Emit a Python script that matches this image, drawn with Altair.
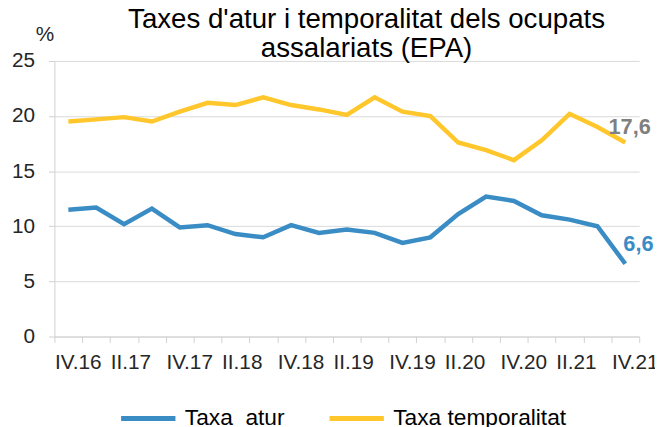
import altair as alt
import pandas as pd

quarters = ["IV.16", "I.17", "II.17", "III.17", "IV.17", "I.18", "II.18", "III.18",
            "IV.18", "I.19", "II.19", "III.19", "IV.19", "I.20", "II.20", "III.20",
            "IV.20", "I.21", "II.21", "III.21", "IV.21"]
atur = [11.5, 11.7, 10.2, 11.6, 9.9, 10.1, 9.3, 9.0, 10.1, 9.4, 9.7, 9.4, 8.5, 9.0,
        11.1, 12.7, 12.3, 11.0, 10.6, 10.0, 6.6]
temporalitat = [19.5, 19.7, 19.9, 19.5, 20.4, 21.2, 21.0, 21.7, 21.0, 20.6, 20.1, 21.7,
                20.4, 20.0, 17.6, 16.9, 16.0, 17.8, 20.2, 19.0, 17.6]
series_names = ["Taxa\u00a0 atur", "Taxa temporalitat"]
series_colors = ["#3A8CC4", "#FFC72C"]
shown_labels = quarters[::2]

rows = []
for name, vals in zip(series_names, [atur, temporalitat]):
    for q, v in zip(quarters, vals):
        rows.append({"q": q, "series": name, "value": v,
                     "label": f"{v:.1f}".replace(".", ",")})
df = pd.DataFrame(rows)

FONT = "Liberation Sans"
label_expr = "indexof([" + ",".join(f"'{s}'" for s in shown_labels) + "], datum.value) >= 0 ? datum.value : ''"

x_enc = alt.X("q:N", sort=quarters, bandPosition=0.5,
              scale=alt.Scale(type="band", paddingInner=0, paddingOuter=0),
              axis=alt.Axis(title=None, labelExpr=label_expr, labelAngle=0, labelAlign="left",
                            labelOffset=-14, labelPadding=9, labelFontSize=21, labelFont=FONT,
                            labelColor="#262626", tickBand="extent", tickSize=6,
                            tickColor="#d0d0d0", domainColor="#d0d0d0", grid=False,
                            labelOverlap=False, labelBound=False))
y_enc = alt.Y("value:Q", scale=alt.Scale(domain=[0, 25], nice=False, zero=True),
              axis=alt.Axis(values=[0, 5, 10, 15, 20, 25], title="%", titleAngle=0,
                            titleX=-10, titleY=-27, titleAlign="center", titleBaseline="middle",
                            titleFontSize=21, titleFont=FONT, titleFontWeight="normal",
                            titleColor="#262626", labelFontSize=21, labelFont=FONT,
                            labelColor="#262626", labelPadding=14, tickSize=6,
                            tickColor="#d0d0d0", domainColor="#d0d0d0", gridColor="#d9d9d9",
                            grid=True))

lines = alt.Chart(df).mark_line(strokeWidth=4.5).encode(
    x=x_enc, y=y_enc,
    color=alt.Color("series:N", sort=series_names,
                    scale=alt.Scale(domain=series_names, range=series_colors),
                    legend=alt.Legend(title=None, orient="none", legendX=65, legendY=332,
                                      direction="horizontal", gridAlign="none",
                                      symbolType="stroke", symbolSize=3025,
                                      symbolStrokeWidth=5, labelFontSize=23, labelFont=FONT,
                                      labelColor="#000000", labelOffset=7, columnPadding=35,
                                      labelLimit=400, padding=0))
)

lab_t = alt.Chart(df).transform_filter(
    (alt.datum.q == "IV.21") & (alt.datum.series == "Taxa temporalitat")
).mark_text(align="left", baseline="middle", dx=-17, dy=-16, fontSize=22,
            fontWeight="bold", font=FONT, color="#7F7F7F").encode(
    x=alt.X("q:N", sort=quarters, bandPosition=0.5), y="value:Q", text="label:N")

lab_a = alt.Chart(df).transform_filter(
    (alt.datum.q == "IV.21") & (alt.datum.series == "Taxa\u00a0 atur")
).mark_text(align="left", baseline="middle", dx=-2, dy=-20, fontSize=22,
            fontWeight="bold", font=FONT, color="#3A8CC4").encode(
    x=alt.X("q:N", sort=quarters, bandPosition=0.5), y="value:Q", text="label:N")

chart = alt.layer(lines, lab_t, lab_a).properties(
    width=592, height=279,
    autosize=alt.AutoSizeParams(type="none"),
    padding={"left": 47, "top": 51, "right": 16, "bottom": 89},
    title=alt.TitleParams(text=["Taxes d'atur i temporalitat dels ocupats", "assalariats (EPA)"],
                          fontSize=28, font=FONT, fontWeight="normal", color="#000000",
                          anchor="middle", frame="group", dx=20, lineHeight=29,
                          baseline="alphabetic", offset=-62)
).configure_view(stroke=None)

chart.save("out.html", embed_options={"renderer": "svg", "actions": False})
